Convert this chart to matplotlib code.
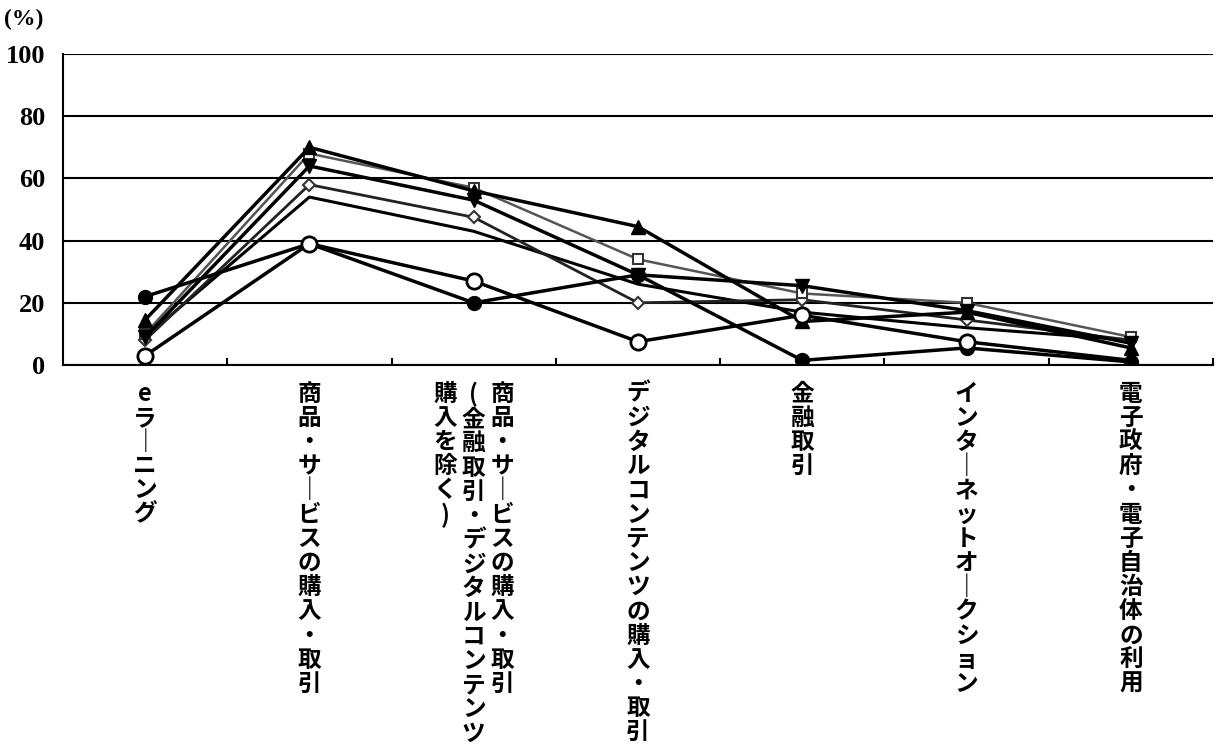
import matplotlib
matplotlib.use("Agg")
import matplotlib.pyplot as plt
import matplotlib.transforms as mtrans

plt.rcParams['font.family'] = ['Noto Sans CJK JP', 'DejaVu Sans']

# category labels, one column per line (right to left when written vertically)
categories = [
    "eラーニング",
    "商品・サービスの購入・取引",
    "商品・サービスの購入・取引\n(金融取引・デジタルコンテンツ\n購入を除く)",
    "デジタルコンテンツの購入・取引",
    "金融取引",
    "インターネットオークション",
    "電子政府・電子自治体の利用",
]

tri_up = [14.5, 70, 56, 44.5, 14, 17, 5.5]
square = [10, 68, 57, 34, 23, 20, 9]
tri_down = [9, 64, 53, 29, 25.5, 17.5, 7]
diamond = [8, 58, 47.5, 20, 21, 14.5, 8]
plain = [9, 54, 43, 26, 17, 12, 8]
open_circle = [3, 39, 27, 7.5, 16, 7.5, 1.5]
filled_circle = [22, 39, 20, 29, 1.5, 5.5, 1]

yticks = [0, 20, 40, 60, 80, 100]

fig = plt.figure(figsize=(12.16, 7.46), dpi=100)
ax = fig.add_axes([0.0518, 0.5107, 0.9457, 0.4169])

x = list(range(len(categories)))

ax.plot(x, plain, color="black", lw=2.2, zorder=3)
ax.plot(x, diamond, color="#222222", lw=2.0, marker="D", ms=6.5,
        mfc="white", mec="#333333", mew=1.5, zorder=3)
ax.plot(x, square, color="#555555", lw=1.8, marker="s", ms=6.5,
        mfc="white", mec="#333333", mew=1.5, zorder=3)
ax.plot(x, tri_down, color="black", lw=2.5, marker="v", ms=10, zorder=4)
ax.plot(x, tri_up, color="black", lw=2.5, marker="^", ms=10, zorder=4)
ax.plot(x, filled_circle, color="black", lw=2.5, marker="o", ms=10, zorder=5)
# last point sits under the filled circle in the original
ax.plot(x, open_circle, color="black", lw=2.5, marker="o", ms=11,
        mfc="white", mec="black", mew=2, zorder=6,
        markevery=list(range(len(x) - 1)))

ax.set_xlim(-0.5, len(categories) - 0.5)
ax.set_ylim(0, 100)
ax.set_yticks(yticks)
ax.set_yticklabels([str(v) for v in yticks], fontfamily="Liberation Serif",
                   fontweight="bold", fontsize=19)
ax.tick_params(axis="y", length=0, pad=13)
ax.set_xticks([i + 0.5 for i in x])
ax.set_xticklabels([])
ax.tick_params(axis="x", direction="in", length=5, width=1.5)
ax.yaxis.grid(True, color="black", lw=1.5)
ax.set_axisbelow(True)
for side in ["top", "right"]:
    ax.spines[side].set_visible(False)
for side in ["left", "bottom"]:
    ax.spines[side].set_linewidth(1.5)

fig.text(0.003, 0.96, "(%)", ha="left", va="bottom",
         fontfamily="Liberation Serif", fontweight="bold", fontsize=17)

# vertical category labels
trans = mtrans.blended_transform_factory(ax.transData, ax.transAxes)
for i, label in enumerate(categories):
    cols = label.split("\n")
    n = len(cols)
    for j, col in enumerate(cols):
        dx = ((n - 1) / 2 - j) * 20.5
        chars = [("｜" if c == "ー" else c) for c in col]
        ax.annotate("\n".join(chars), xy=(i, 0), xycoords=trans,
                    xytext=(dx, -12), textcoords="offset points",
                    ha="center", va="top", fontsize=17, fontweight="bold",
                    linespacing=1.01, annotation_clip=False)

fig.savefig("out.png", dpi=100)
